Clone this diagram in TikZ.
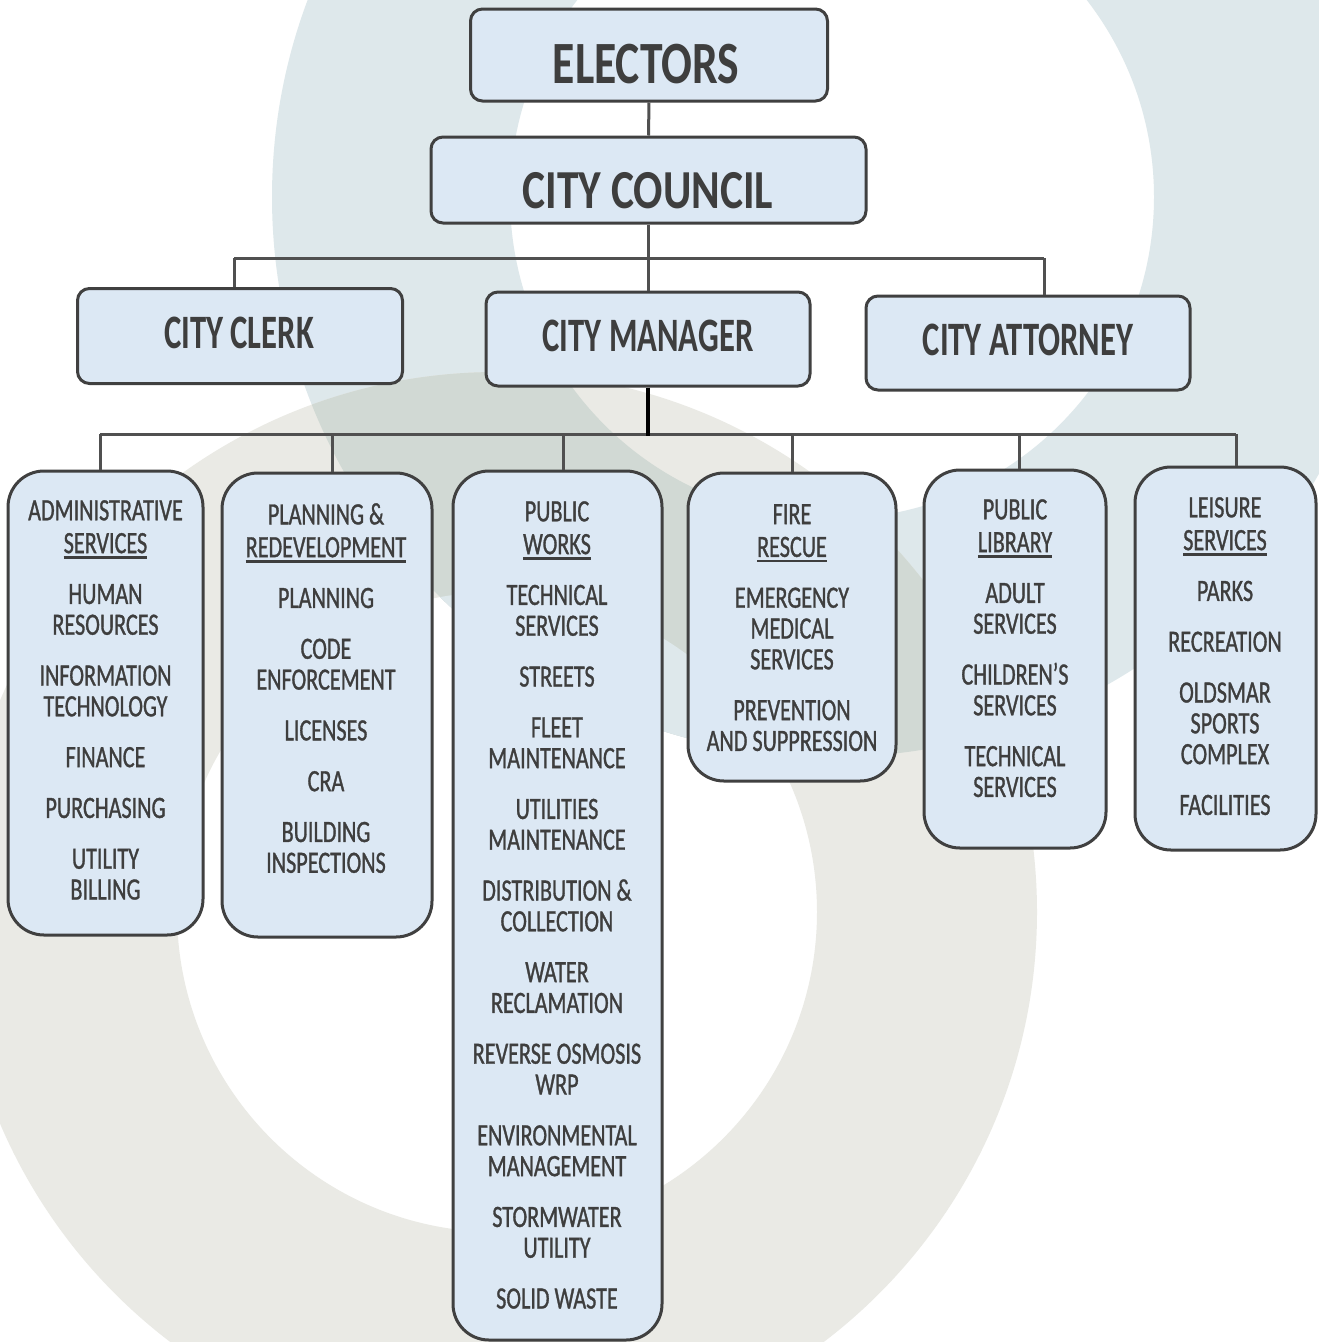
\documentclass[tikz,border=0pt]{standalone}
\usepackage{fontspec}
\setmainfont{Carlito}
\newfontfamily\itemfont[FakeStretch=0.715,FakeBold=1]{Carlito}
\newfontfamily\titlefontA[FakeStretch=0.76]{Carlito}
\newfontfamily\titlefontB[FakeStretch=0.79]{Carlito}
\newfontfamily\titlefontC[FakeStretch=0.68]{Carlito}
\definecolor{boxfill}{RGB}{220,232,244}
\definecolor{boxline}{RGB}{64,64,64}
\definecolor{txt}{RGB}{62,62,62}
\definecolor{ringA}{RGB}{222,232,235}
\definecolor{ringB}{RGB}{234,234,229}
\definecolor{ringAB}{RGB}{209,217,212}
\definecolor{connc}{RGB}{80,80,80}
\newsavebox\ulbox
\newcommand\ulx[1]{\sbox\ulbox{#1}\rlap{\rule[-5.5pt]{\wd\ulbox}{2.2pt}}\usebox\ulbox}
\begin{document}
\begin{tikzpicture}[x=1pt,y=-1pt,
  topbox/.style={draw=boxline, fill=boxfill, line width=3pt, rounded corners=12pt, inner sep=0pt},
  subbox/.style={draw=boxline, fill=boxfill, line width=3pt, rounded corners=36pt, inner sep=0pt},
  ttext/.style={text=txt, inner sep=0pt, anchor=center},
  itext/.style={font=\itemfont\fontsize{31}{30.8}\selectfont, text=txt, align=center, inner sep=0pt, anchor=north},
  conn/.style={draw=connc, line width=3pt}
]
\useasboundingbox (0,0) rectangle (1319,1342);
\fill[white] (0,0) rectangle (1319,1342);
% background rings
\begin{scope}
  \clip (0,0) rectangle (1319,1342);
  \fill[ringA, even odd rule] (832,197) circle[radius=560pt] (832,197) circle[radius=322pt];
  \fill[ringB, even odd rule] (497,912) circle[radius=540pt] (497,912) circle[radius=320pt];
  \begin{scope}
    \clip (497,912) circle[radius=540pt];
    \fill[ringAB, even odd rule] (832,197) circle[radius=560pt] (832,197) circle[radius=322pt];
    \begin{scope}
      \clip (497,912) circle[radius=320pt];
      \fill[ringA, even odd rule] (832,197) circle[radius=560pt] (832,197) circle[radius=322pt];
    \end{scope}
  \end{scope}
\end{scope}

% boxes
\node[topbox, minimum width=357pt, minimum height=92pt] (elbox) at (649,55) {};
\node[topbox, minimum width=435pt, minimum height=86pt] (ccbox) at (648.5,180) {};
\node[topbox, minimum width=325pt, minimum height=95pt] (clerkbox) at (240,336) {};
\node[topbox, minimum width=324pt, minimum height=94pt] (mgrbox) at (648,339) {};
\node[topbox, minimum width=324pt, minimum height=94pt] (attbox) at (1028,343) {};

\node[subbox, minimum width=195pt, minimum height=464pt] (admbox) at (105.5,703) {};
\node[subbox, minimum width=210pt, minimum height=464pt] (plnbox) at (327,705) {};
\node[subbox, minimum width=209pt, minimum height=869pt] (pwbox) at (557.5,905.5) {};
\node[subbox, minimum width=208pt, minimum height=308pt] (firebox) at (792,627) {};
\node[subbox, minimum width=182pt, minimum height=378pt] (libbox) at (1015,659) {};
\node[subbox, minimum width=181pt, minimum height=383pt] (leibox) at (1225.5,658.5) {};

% connectors
\draw[conn] (elbox.south) -- (ccbox.north);
\coordinate (busTop) at (648.5,258);
\coordinate (dClerk) at (234,258);
\coordinate (dAtt) at (1044,258);
\draw[conn] (ccbox.south) -- (busTop);
\draw[conn] (dClerk) -- (dAtt);
\draw[conn] (dClerk) -- (dClerk |- clerkbox.north);
\draw[conn] (dAtt) -- (dAtt |- attbox.north);
\draw[conn] (busTop) -- (busTop |- mgrbox.north);

\coordinate (bus2) at (648,434);
\coordinate (dAdm) at (100,434);
\coordinate (dPln) at (332,434);
\coordinate (dPw) at (563,434);
\coordinate (dFire) at (792,434);
\coordinate (dLib) at (1019,434);
\coordinate (dLei) at (1236,434);
\draw[conn] (dAdm) -- (dLei);
\draw[conn] (dAdm) -- (dAdm |- admbox.north);
\draw[conn] (dPln) -- (dPln |- plnbox.north);
\draw[conn] (dPw) -- (dPw |- pwbox.north);
\draw[conn] (dFire) -- (dFire |- firebox.north);
\draw[conn] (dLib) -- (dLib |- libbox.north);
\draw[conn] (dLei) -- (dLei |- leibox.north);
\draw[black, line width=4pt] (mgrbox.south) -- ([yshift=-2pt]bus2);

% titles
\node[ttext, font=\titlefontA\bfseries\fontsize{60}{60}\selectfont] (elt) at (646,64) {ELECTORS};
\node[ttext, font=\titlefontB\bfseries\fontsize{55}{55}\selectfont] (cct) at (648,190.5) {CITY COUNCIL};
\node[ttext, font=\titlefontC\bfseries\fontsize{48}{48}\selectfont] (clerkt) at (239,333) {CITY CLERK};
\node[ttext, font=\titlefontC\bfseries\fontsize{48}{48}\selectfont] (mgrt) at (648,336) {CITY MANAGER};
\node[ttext, font=\titlefontC\bfseries\fontsize{48}{48}\selectfont] (attt) at (1028,340) {CITY ATTORNEY};

% department texts
\node[itext] (admt) at (105.5,500) {ADMINISTRATIVE\\[2pt]\ulx{SERVICES}\\[20pt]HUMAN\\RESOURCES\\[20pt]INFORMATION\\TECHNOLOGY\\[20pt]FINANCE\\[20pt]PURCHASING\\[20pt]UTILITY\\BILLING};
\node[itext] (plnt) at (326,503) {PLANNING \&\\[2pt]\ulx{REDEVELOPMENT}\\[20pt]PLANNING\\[20pt]CODE\\ENFORCEMENT\\[20pt]LICENSES\\[20pt]CRA\\[20pt]BUILDING\\INSPECTIONS};
\node[itext] (pwt) at (557,501) {PUBLIC\\[2pt]\ulx{WORKS}\\[20pt]TECHNICAL\\SERVICES\\[20pt]STREETS\\[20pt]FLEET\\MAINTENANCE\\[20pt]UTILITIES\\MAINTENANCE\\[20pt]DISTRIBUTION \&\\COLLECTION\\[20pt]WATER\\RECLAMATION\\[20pt]REVERSE OSMOSIS\\WRP\\[20pt]ENVIRONMENTAL\\MANAGEMENT\\[20pt]STORMWATER\\UTILITY\\[20pt]SOLID WASTE};
\node[itext] (firet) at (792,504) {FIRE\\[2pt]\ulx{RESCUE}\\[20pt]EMERGENCY\\MEDICAL\\SERVICES\\[20pt]PREVENTION\\AND SUPPRESSION};
\node[itext] (libt) at (1015,499) {PUBLIC\\[2pt]\ulx{LIBRARY}\\[20pt]ADULT\\SERVICES\\[20pt]CHILDREN’S\\SERVICES\\[20pt]TECHNICAL\\SERVICES};
\node[itext] (leit) at (1225,497) {LEISURE\\[2pt]\ulx{SERVICES}\\[20pt]PARKS\\[20pt]RECREATION\\[20pt]OLDSMAR\\SPORTS\\COMPLEX\\[20pt]FACILITIES};
\end{tikzpicture}
\end{document}
